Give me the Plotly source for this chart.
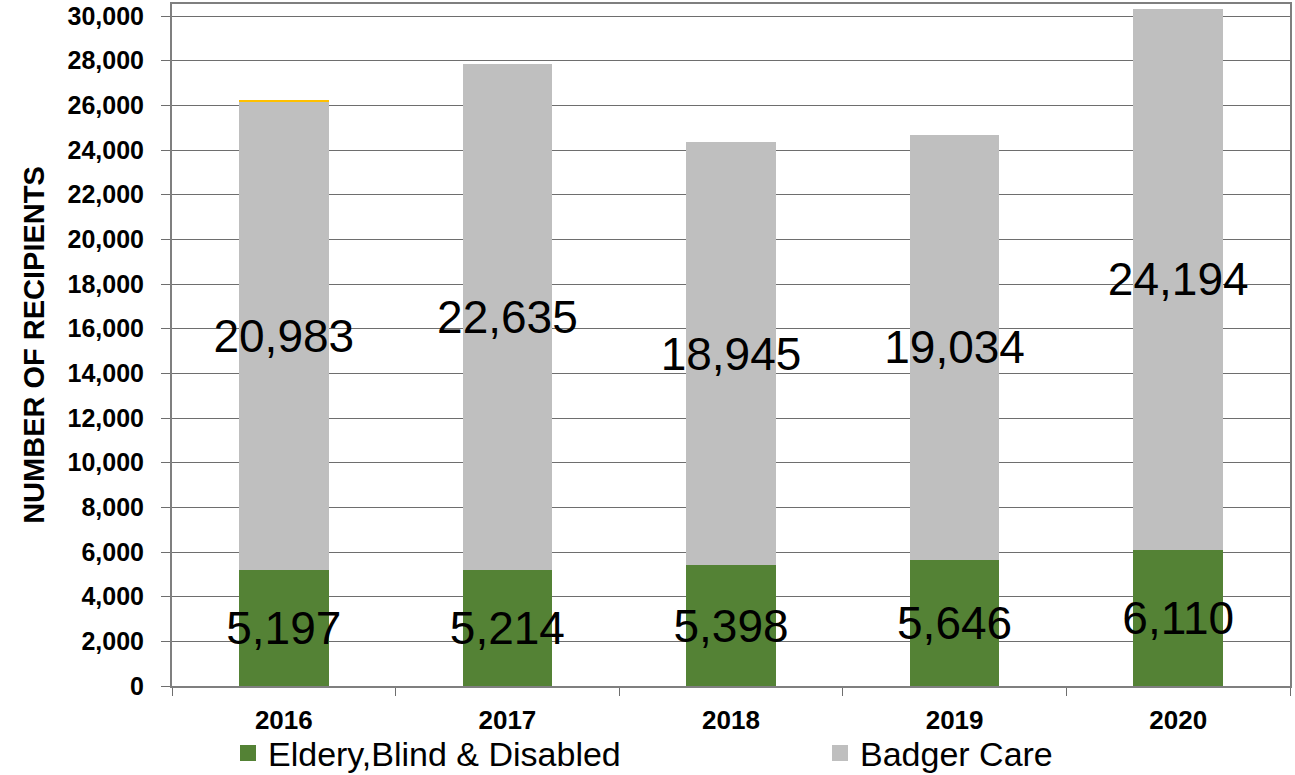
import plotly.graph_objects as go

# Recipients by year, stacked by program
years = ["2016", "2017", "2018", "2019", "2020"]
ebd = [5197, 5214, 5398, 5646, 6110]          # Eldery, Blind & Disabled
badger = [20983, 22635, 18945, 19034, 24194]  # Badger Care
other = [70, 0, 0, 0, 0]                      # small remainder shown on 2016 only

y_ticks = list(range(0, 30001, 2000))

GREEN = "#548235"
GREY = "#BFBFBF"
GOLD = "#FFC000"
FONT = "Liberation Sans, Arial, sans-serif"

fig = go.Figure()

label_font = dict(family=FONT, size=46, color="black")

fig.add_trace(go.Bar(
    x=years, y=ebd, name="Eldery,Blind & Disabled",
    marker=dict(color=GREEN, line=dict(width=0)),
    texttemplate="%{y:,}", textposition="inside", insidetextanchor="middle",
    textangle=0, constraintext="none", textfont=label_font, showlegend=False,
))
fig.add_trace(go.Bar(
    x=years, y=badger, name="Badger Care",
    marker=dict(color=GREY, line=dict(width=0)),
    texttemplate="%{y:,}", textposition="inside", insidetextanchor="middle",
    textangle=0, constraintext="none", textfont=label_font, showlegend=False,
))
fig.add_trace(go.Bar(
    x=years, y=other, name="Other",
    marker=dict(color=GOLD, line=dict(width=0)),
    showlegend=False, hoverinfo="skip",
))

# Legend entries with larger square swatches, one legend box per series
legend_items = [("Eldery,Blind & Disabled", GREEN, "legend", 228),
                ("Badger Care", GREY, "legend2", 820)]
for nm, col, lg, _ in legend_items:
    fig.add_trace(go.Scatter(
        x=[None], y=[None], mode="markers", name=nm, legend=lg,
        marker=dict(symbol="square", size=16, color=col),
    ))

legend_style = dict(
    orientation="h",
    xref="container", yref="container",
    xanchor="left", y=0.028, yanchor="middle",
    font=dict(family=FONT, size=34, color="black"),
    itemsizing="trace",
    bgcolor="rgba(0,0,0,0)",
)

fig.update_layout(
    barmode="stack",
    bargap=0.6,
    width=1295, height=775,
    margin=dict(l=172, r=5, t=4, b=89, autoexpand=False),
    plot_bgcolor="white",
    paper_bgcolor="white",
    font=dict(family=FONT, color="black"),
    legend=dict(legend_style, x=legend_items[0][3] / 1295),
    legend2=dict(legend_style, x=legend_items[1][3] / 1295),
)

fig.update_yaxes(
    range=[0, 30540],
    tickvals=y_ticks,
    tickformat=",",
    tickfont=dict(family=FONT, size=25, color="black", weight="bold"),
    showgrid=True, gridcolor="#6E6E6E", gridwidth=1,
    ticks="outside", ticklen=9, tickcolor="#6E6E6E", tickwidth=1,
    ticklabelstandoff=12,
    showline=True, linecolor="#7F7F7F", linewidth=2, mirror=True,
    zeroline=False,
    title=dict(
        text="NUMBER OF RECIPIENTS",
        font=dict(family=FONT, size=29, color="black", weight="bold"),
        standoff=14,
    ),
)

fig.update_xaxes(
    tickfont=dict(family=FONT, size=26, color="black", weight="bold"),
    tickson="boundaries",
    ticks="outside", ticklen=8, tickcolor="#6E6E6E", tickwidth=1,
    ticklabelstandoff=10,
    showline=True, linecolor="#7F7F7F", linewidth=2, mirror=True,
    showgrid=False,
)

fig.write_html("out.html")
